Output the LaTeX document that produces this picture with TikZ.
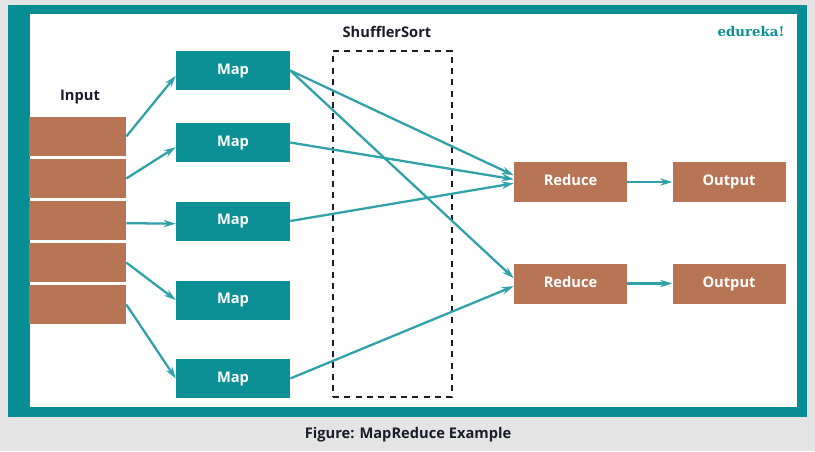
\documentclass[tikz,border=0pt]{standalone}
\usepackage{fontspec}
\setmainfont{Open Sans}
\newfontfamily\logofont{DejaVu Serif}
\usepackage{xcolor}
\usetikzlibrary{positioning, arrows.meta}

\definecolor{frameteal}{HTML}{078E95}
\definecolor{boxteal}{HTML}{0B9096}
\definecolor{flowteal}{HTML}{2FA1A8}
\definecolor{boxbrown}{HTML}{B87556}
\definecolor{pagegray}{HTML}{E4E4E4}
\definecolor{inkdark}{HTML}{1C1B2A}

\begin{document}
\begin{tikzpicture}[x=0.75pt,y=-0.75pt,>={Stealth[length=9pt,width=5.5pt]},
    every node/.style={font=\bfseries\fontsize{11}{13}\selectfont, inner sep=0pt},
    mapbox/.style={fill=boxteal, text=white, minimum width=85.5pt, minimum height=29.25pt,
                   text height=8pt, text depth=2.5pt},
    inbox/.style={fill=boxbrown, minimum width=72.75pt, minimum height=29.5pt},
    redbox/.style={fill=boxbrown, text=white, minimum width=84.75pt, minimum height=30pt,
                   text height=8pt, text depth=2.5pt},
    flow/.style={->, draw=flowteal, line width=1.7pt}]
    \useasboundingbox (0,0) rectangle (815,451);
    \fill[pagegray] (0,0) rectangle (815,451);
    \fill[frameteal] (8,5) rectangle (807,417);
    \fill[white] (30,14) rectangle (797,407);

    % input splits
    \node (inlabel) at (80,97) [text=inkdark] {Input};
    \foreach \i in {1,...,5}
        \node[inbox] (in\i) at (77.5,94.5+42*\i) {};

    % mappers
    \node[mapbox] (map1) at (233,70.5) {Map};
    \node[mapbox] (map2) at (233,142.5) {Map};
    \node[mapbox] (map3) at (233,221) {Map};
    \node[mapbox] (map4) at (233,300) {Map};
    \node[mapbox] (map5) at (233,378.5) {Map};

    % shuffle and sort
    \node[draw=inkdark, dashed, dash pattern=on 4.5pt off 4pt, line width=1.1pt,
          minimum width=89.25pt, minimum height=259.5pt] (shufbox) at (392.5,224) {};
    \node (shuflabel) at (387,32) [text=inkdark] {ShufflerSort};

    % reducers and outputs
    \node[redbox] (red1) at (570.5,182) {Reduce};
    \node[redbox] (red2) at (570.5,283.5) {Reduce};
    \node[redbox] (out1) [right=33.75pt of red1] {Output};
    \node[redbox] (out2) [right=33.75pt of red2] {Output};

    \node (logo) at (751,32) [text=boxteal, font=\logofont\bfseries\fontsize{10}{12}\selectfont] {edureka!};
    \node (caption) at (408,435) [text=inkdark] {Figure: MapReduce Example};

    \draw[flow] (in1.east) -- ([yshift=-4pt]map1.west);
    \draw[flow] (in2.east) -- ([yshift=-3.5pt]map2.west);
    \draw[flow] ([yshift=-2pt]in3.east) -- ([yshift=-2pt]map3.west);
    \draw[flow] (in4.east) -- (map4.west);
    \draw[flow] (in5.east) -- (map5.west);

    \draw[flow] (map1.east) -- ([yshift=5pt]red1.west);
    \draw[flow] (map2.east) -- ([yshift=2pt]red1.west);
    \draw[flow] (map3.east) -- ([yshift=-1pt]red1.west);
    \draw[flow] (map1.east) -- ([yshift=4pt]red2.west);
    \draw[flow] (map5.east) -- ([yshift=-2pt]red2.west);

    \draw[flow] (red1) -- (out1);
    \draw[flow] (red2) -- (out2);
\end{tikzpicture}
\end{document}
